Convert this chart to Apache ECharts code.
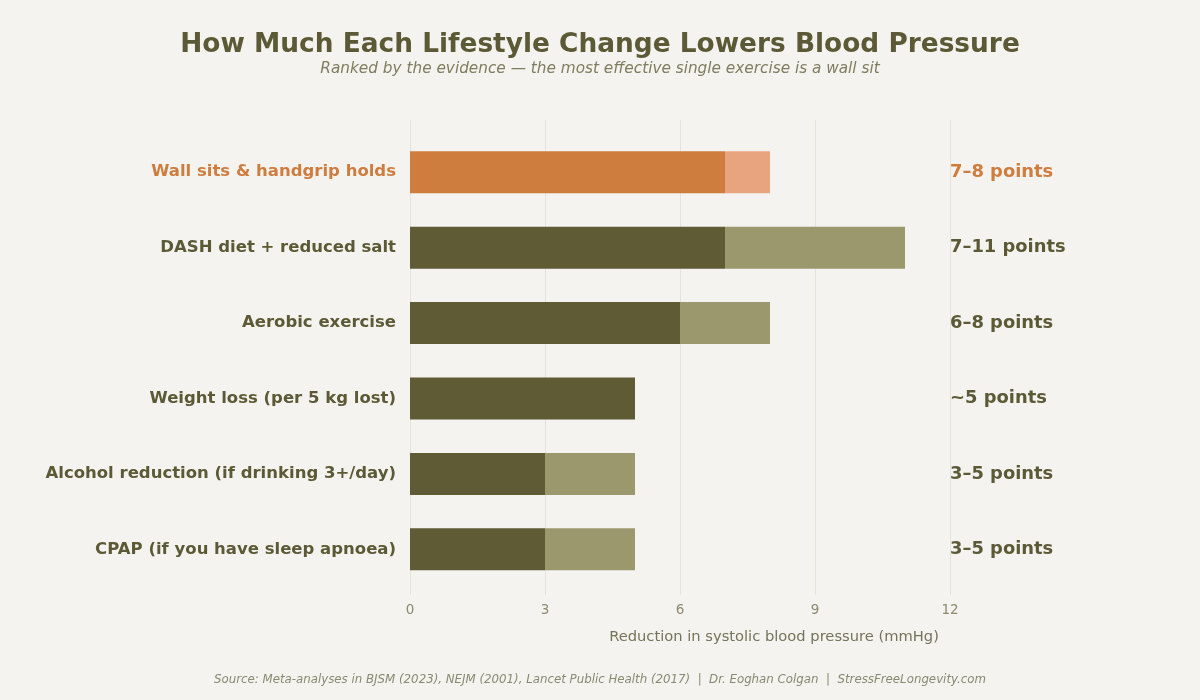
<!DOCTYPE html>
<html>
<head>
<meta charset="utf-8">
<script src="https://cdn.jsdelivr.net/npm/echarts@6/dist/echarts.min.js"></script>
<style>
html,body{margin:0;padding:0;background:#F4F3EF;}
#chart{width:1200px;height:700px;}
</style>
</head>
<body>
<div id="chart"></div>
<script>
const categories = [
  "Wall sits & handgrip holds",
  "DASH diet + reduced salt",
  "Aerobic exercise",
  "Weight loss (per 5 kg lost)",
  "Alcohol reduction (if drinking 3+/day)",
  "CPAP (if you have sleep apnoea)"
];
const lowValues = [7, 7, 6, 5, 3, 3];
const highValues = [8, 11, 8, 5, 5, 5];
const rangeLabels = ["7–8 points", "7–11 points", "6–8 points", "~5 points", "3–5 points", "3–5 points"];
const xTicks = [0, 3, 6, 9, 12];
const highlightIndex = 0;

const FONT = "DejaVu Sans";
const TEXT = "#5C5A36";
const ORANGE = "#CE7D3F";
const ORANGE_LIGHT = "#E8A47E";
const OLIVE = "#5E5B35";
const OLIVE_LIGHT = "#9B986D";

const extraValues = highValues.map((h, i) => h - lowValues[i]);

const chart = echarts.init(document.getElementById('chart'));
chart.setOption({
  backgroundColor: '#F4F3EF',
  animation: false,
  textStyle: { fontFamily: FONT },
  title: [
    { text: 'How Much Each Lifestyle Change Lowers Blood Pressure', left: 'center', top: 27,
      textStyle: { fontFamily: FONT, fontSize: 26.4, fontWeight: 'bold', color: TEXT } },
    { text: 'Ranked by the evidence — the most effective single exercise is a wall sit', left: 'center', top: 57,
      textStyle: { fontFamily: FONT, fontSize: 15.3, fontStyle: 'italic', fontWeight: 'normal', color: '#7F7D5F' } },
    { text: 'Source: Meta-analyses in BJSM (2023), NEJM (2001), Lancet Public Health (2017)  |  Dr. Eoghan Colgan  |  StressFreeLongevity.com', left: 'center', top: 669,
      textStyle: { fontFamily: FONT, fontSize: 11.8, fontStyle: 'italic', fontWeight: 'normal', color: '#8A8A72' } }
  ],
  grid: [
    { left: 410, right: 250, top: 134.5, height: 452.5 },
    { left: 410, right: 250, top: 120, bottom: 105 }
  ],
  xAxis: [
    { gridIndex: 0, type: 'value', min: 0, max: 12, interval: 3,
      axisLine: { show: false }, axisTick: { show: false }, axisLabel: { show: false }, splitLine: { show: false } },
    { gridIndex: 1, type: 'value', min: 0, max: 12, interval: 3,
      axisLine: { show: false }, axisTick: { show: false },
      axisLabel: { color: '#8C8A70', fontSize: 13.5, margin: 8, fontFamily: FONT,
        formatter: v => xTicks.includes(v) ? String(v) : '' },
      splitLine: { show: true, lineStyle: { color: '#E6E3DA', width: 1 } },
      name: 'Reduction in systolic blood pressure (mmHg)', nameLocation: 'middle', nameGap: 35,
      nameTextStyle: { color: '#75735A', fontSize: 14.7, fontFamily: FONT, padding: [0, 0, 0, 188] } }
  ],
  yAxis: [
    { gridIndex: 0, type: 'category', data: categories, inverse: true,
      axisLine: { show: false }, axisTick: { show: false }, splitLine: { show: false },
      axisLabel: { margin: 14, fontSize: 16.5, fontWeight: 'bold', fontFamily: FONT,
        color: (v, i) => i === highlightIndex ? ORANGE : TEXT } },
    { gridIndex: 0, type: 'category', data: rangeLabels, inverse: true, position: 'right',
      axisLine: { show: false }, axisTick: { show: false }, splitLine: { show: false },
      axisLabel: { margin: 0, align: 'left', fontSize: 17.9, fontWeight: 'bold', fontFamily: FONT,
        color: (v, i) => i === highlightIndex ? ORANGE : TEXT } },
    { gridIndex: 1, type: 'value', show: false }
  ],
  series: [
    { type: 'bar', xAxisIndex: 0, yAxisIndex: 0, stack: 'r', barWidth: 42,
      data: lowValues.map((v, i) => ({ value: v, itemStyle: { color: i === highlightIndex ? ORANGE : OLIVE } })) },
    { type: 'bar', xAxisIndex: 0, yAxisIndex: 0, stack: 'r', barWidth: 42,
      data: extraValues.map((v, i) => ({ value: v, itemStyle: { color: i === highlightIndex ? ORANGE_LIGHT : OLIVE_LIGHT } })) }
  ]
});
</script>
</body>
</html>
